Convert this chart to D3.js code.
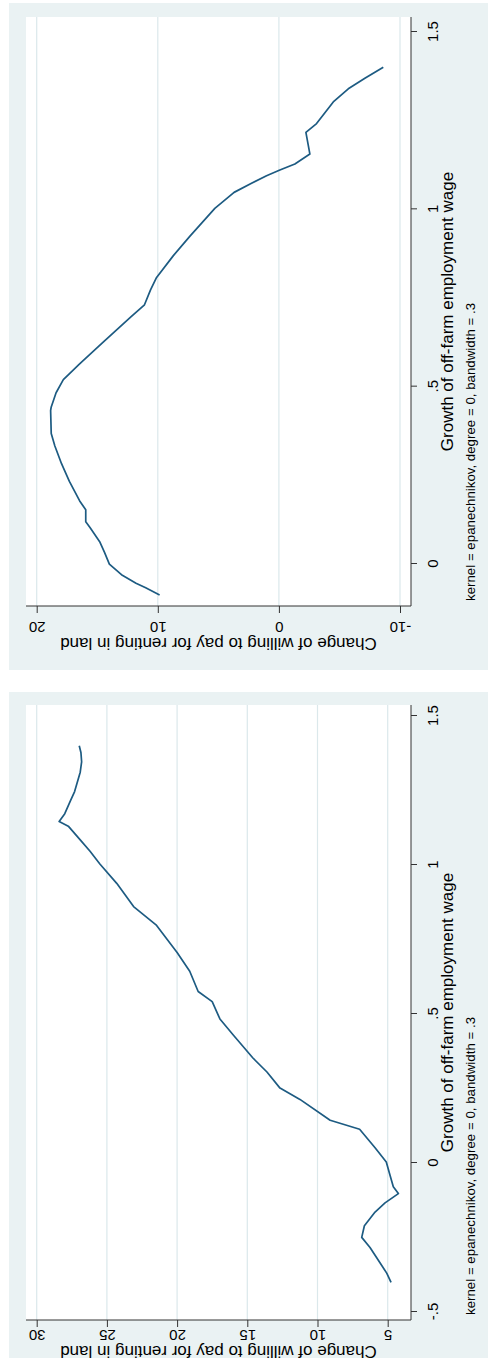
<!DOCTYPE html>
<html><head><meta charset="utf-8">
<script src="https://cdn.jsdelivr.net/npm/d3@7"></script>
<style>html,body{margin:0;padding:0;background:#fff}svg{display:block}</style>
</head><body>
<script>
// Panel 1 (top): local polynomial smooth
const growth1 = [-0.09,-0.07,-0.057,-0.033,-0.003,0.03,0.06,0.10,0.116,0.15,0.175,0.23,0.28,0.33,0.365,0.43,0.44,0.48,0.517,0.56,0.62,0.695,0.728,0.77,0.805,0.866,0.921,1.0,1.045,1.07,1.092,1.108,1.125,1.153,1.214,1.239,1.30,1.337,1.367,1.398];
const change1 = [9.85,11.0,11.8,13.0,14.0,14.4,14.8,15.6,15.95,15.95,16.45,17.3,17.95,18.5,18.8,18.85,18.8,18.4,17.8,16.5,14.6,12.2,11.1,10.6,10.1,8.73,7.36,5.29,3.7,2.3,1.02,-0.08,-1.32,-2.56,-2.23,-3.11,-4.49,-5.73,-7.1,-8.62];
// Panel 2 (bottom)
const growth2 = [-0.404,-0.373,-0.338,-0.287,-0.253,-0.214,-0.168,-0.137,-0.106,-0.083,-0.045,0.0,0.048,0.11,0.14,0.21,0.248,0.302,0.349,0.426,0.48,0.538,0.572,0.64,0.703,0.796,0.857,0.935,1.0,1.043,1.081,1.127,1.143,1.169,1.212,1.243,1.308,1.343,1.374,1.397];
const change2 = [4.76,5.07,5.55,6.26,6.85,6.66,5.9,5.19,4.24,4.6,4.83,5.1,5.9,7.0,9.1,11.25,12.67,13.6,14.6,16.0,16.95,17.5,18.5,19.1,20.0,21.5,23.1,24.3,25.5,26.2,26.9,27.75,28.4,28.0,27.6,27.3,26.9,26.8,26.85,26.97];

const gTicks1 = [0, 0.5, 1, 1.5];
const vTicks1 = [20, 10, 0, -10];
const gTicks2 = [-0.5, 0, 0.5, 1, 1.5];
const vTicks2 = [30, 25, 20, 15, 10, 5];

const xTitle = "Growth of off-farm employment wage";
const yTitle = "Change of willing to pay for renting in land";
const note = "kernel = epanechnikov, degree = 0, bandwidth = .3";

const W = 488, H = 1360;
const FONT = "'Liberation Sans', Arial, Helvetica, sans-serif";
const BG = "#eaf2f3", GRID = "#dbe8eb", LINE = "#1d5b82", AX = "#333";

const svg = d3.select("body").append("svg").attr("width", W).attr("height", H)
  .style("font-family", FONT);

function fmt(d){
  if (d === 0) return "0";
  return String(d).replace(/^(-?)0\./, "$1.");
}

function panel(cfg){
  const g = svg.append("g");
  g.append("rect").attr("x", cfg.bg[0]).attr("y", cfg.bg[1]).attr("width", cfg.bg[2]).attr("height", cfg.bg[3]).attr("fill", BG);
  const [px0, py0, px1, py1] = cfg.plot;
  g.append("rect").attr("x", px0).attr("y", py0).attr("width", px1 - px0).attr("height", py1 - py0).attr("fill", "#fff");

  const vs = d3.scaleLinear().domain(cfg.vDom).range(cfg.vRange);
  const gs = d3.scaleLinear().domain(cfg.gDom).range(cfg.gRange);

  // gridlines
  g.selectAll(null).data(cfg.vTicks).enter().append("line")
    .attr("x1", d => vs(d)).attr("x2", d => vs(d)).attr("y1", py0).attr("y2", py1)
    .attr("stroke", GRID).attr("stroke-width", 1.2);

  // curve
  const pts = cfg.growth.map((d, i) => [d, cfg.change[i]]);
  g.append("path").datum(pts)
    .attr("d", d3.line().x(d => vs(d[1])).y(d => gs(d[0])))
    .attr("fill", "none").attr("stroke", LINE).attr("stroke-width", 1.7).attr("stroke-linejoin", "round");

  // growth axis (right side, vertical)
  const ga = g.append("g").attr("transform", `translate(${px1},0)`)
    .call(d3.axisRight(gs).tickValues(cfg.gTicks).tickSize(6).tickFormat(fmt));
  ga.select(".domain").attr("d", `M0,${py0}V${py1}`).attr("stroke", AX);
  ga.selectAll(".tick line").attr("stroke", AX);
  ga.selectAll(".tick text").attr("x", 0).attr("dy", null)
    .attr("transform", "translate(21,0) rotate(-90)")
    .attr("text-anchor", "middle").attr("dominant-baseline", "central")
    .attr("font-size", 15).attr("font-family", FONT).attr("fill", "#000");

  // change axis (bottom, horizontal, upside-down labels)
  const va = g.append("g").attr("transform", `translate(0,${py1})`)
    .call(d3.axisBottom(vs).tickValues(cfg.vTicks).tickSize(7).tickFormat(fmt));
  va.select(".domain").attr("d", `M${px0},0H${px1}`).attr("stroke", AX);
  va.selectAll(".tick line").attr("stroke", AX);
  va.selectAll(".tick text").attr("y", 0).attr("dy", null)
    .attr("transform", `translate(0,${cfg.vLabOff}) rotate(180)`)
    .attr("text-anchor", "middle").attr("dominant-baseline", "central")
    .attr("font-size", 15).attr("font-family", FONT).attr("fill", "#000");

  // titles
  const gMid = (py0 + py1) / 2;
  g.append("text").attr("transform", `translate(${cfg.xTitleX},${gMid}) rotate(-90)`)
    .attr("text-anchor", "middle").attr("dominant-baseline", "central")
    .attr("font-size", cfg.titleSize).text(xTitle);
  g.append("text").attr("transform", `translate(${cfg.noteX},${py1 - 5}) rotate(-90)`)
    .attr("text-anchor", "start").attr("dominant-baseline", "central")
    .attr("font-size", 13.3).text(note);
  const vMid = (px0 + px1) / 2;
  g.append("text").attr("transform", `translate(${vMid},${cfg.yTitleY}) rotate(180)`)
    .attr("text-anchor", "middle").attr("dominant-baseline", "central")
    .attr("font-size", cfg.titleSize).text(yTitle);
}

panel({
  bg: [9, 3, 479, 667],
  plot: [26, 17, 411, 606],
  vDom: [20, -10], vRange: [36.7, 400],
  gDom: [0, 1.5], gRange: [563, 31],
  growth: growth1, change: change1,
  gTicks: gTicks1, vTicks: vTicks1,
  vLabOff: 21, xTitleX: 447, noteX: 470, yTitleY: 643, titleSize: 17
});

panel({
  bg: [9, 692, 479, 666],
  plot: [26, 705, 411, 1320],
  vDom: [30, 5], vRange: [36.7, 387.7],
  gDom: [-0.5, 1.5], gRange: [1311, 715],
  growth: growth2, change: change2,
  gTicks: gTicks2, vTicks: vTicks2,
  vLabOff: 15.5, xTitleX: 447, noteX: 470, yTitleY: 1351.5, titleSize: 17
});
</script>
</body></html>
